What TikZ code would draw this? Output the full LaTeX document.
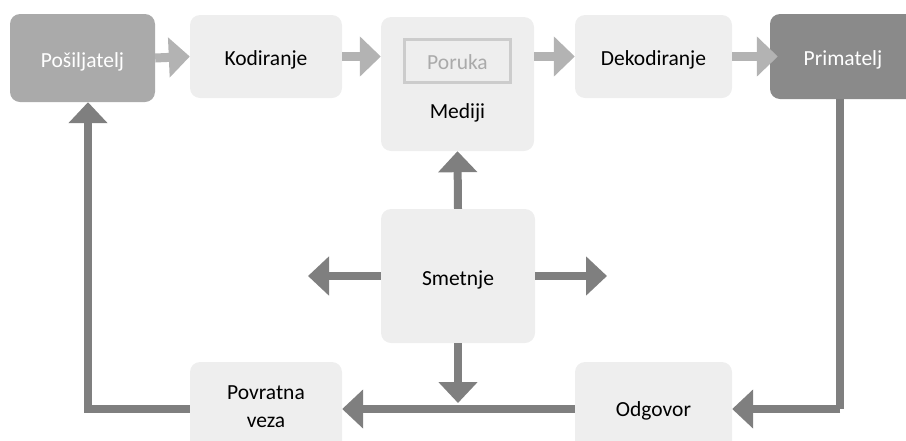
\documentclass[tikz,border=0pt]{standalone}
\usepackage{fontspec}
\setmainfont{Carlito}
\usetikzlibrary{arrows.meta}
\definecolor{boxfill}{HTML}{EEEEEE}
\definecolor{sendfill}{HTML}{AAAAAA}
\definecolor{recvfill}{HTML}{8A8A8A}
\definecolor{lightarrow}{HTML}{B3B3B3}
\definecolor{darkarrow}{HTML}{7F7F7F}
\definecolor{msgframe}{HTML}{CCCCCC}
\begin{document}
\begin{tikzpicture}[x=1pt,y=-1pt,
  font=\fontsize{21.5}{28}\selectfont,
  oneline/.style={text height=18pt, text depth=0pt},
  stagebox/.style={fill=boxfill, rounded corners=10pt, inner sep=0pt},
  lightflow/.style={draw=lightarrow, line width=9pt, -{Triangle[length=21pt,width=39pt]}},
  darkflow/.style={draw=darkarrow, line width=8pt, line join=miter, -{Triangle[length=21pt,width=38pt]}},
  darkline/.style={draw=darkarrow, line width=8pt, line join=miter}
]
\useasboundingbox (0,0) rectangle (906,440);
\begin{scope}
\clip (0,0) rectangle (906,440);
% top row of stages
\node[stagebox, oneline, fill=sendfill, text=white, minimum width=145pt, minimum height=88pt] (send) at (82.5,58) {Pošiljatelj};
\node[stagebox, oneline, minimum width=152pt, minimum height=83pt] (kod) at (266,56.5) {Kodiranje};
\node[stagebox, minimum width=153pt, minimum height=134pt] (med) at (457.5,84) {};
\node[draw=msgframe, oneline, line width=3pt, fill=boxfill, text=sendfill, minimum width=106pt, minimum height=43pt, inner sep=0pt] (msg) at (457.5,60.5) {Poruka};
\node[oneline, inner sep=0pt] (medlabel) at (457.5,109) {Mediji};
\node[stagebox, oneline, minimum width=157pt, minimum height=83pt] (dek) at (653.5,56.5) {Dekodiranje};
\node[stagebox, oneline, fill=recvfill, text=white, minimum width=146pt, minimum height=85pt, text width=136pt, align=center] (prim) at (843,56.5) {Primatelj};
% noise in the middle
\node[stagebox, oneline, minimum width=154pt, minimum height=134pt] (smet) at (458,276) {Smetnje};
% bottom row
\node[stagebox, align=center, minimum width=152pt, minimum height=90pt] (povr) at (266,407) {Povratna\\veza};
\node[stagebox, oneline, minimum width=157pt, minimum height=90pt] (odg) at (653.5,407) {Odgovor};
\end{scope}
% forward flow
\draw[lightflow] (send.east) -- (kod.west);
\draw[lightflow] (kod.east) -- (kod.east -| med.west);
\draw[lightflow] (med.east |- dek.west) -- (dek.west);
\draw[lightflow, shorten >=-8pt] (dek.east) -- (dek.east -| prim.west);
% noise spreading out
\coordinate (noiseleft) at (308,276);
\coordinate (noiseright) at (607,276);
\coordinate (noisedown) at (458,403);
\draw[darkflow] (smet.north) -- (med.south);
\draw[darkflow] (smet.west) -- (noiseleft);
\draw[darkflow] (smet.east) -- (noiseright);
\draw[darkflow] (smet.south) -- (noisedown);
% response and feedback loop
\coordinate (recvcorner) at (840,409);
\coordinate (sendcorner) at (88,409);
\draw[darkline] (prim.south -| recvcorner) -- (recvcorner);
\draw[darkflow] (recvcorner) -- (odg.east |- recvcorner);
\draw[darkflow] (odg.west |- recvcorner) -- (povr.east |- recvcorner);
\draw[darkflow] (povr.west |- sendcorner) -- (sendcorner) -- (sendcorner |- send.south);
\end{tikzpicture}
\end{document}
